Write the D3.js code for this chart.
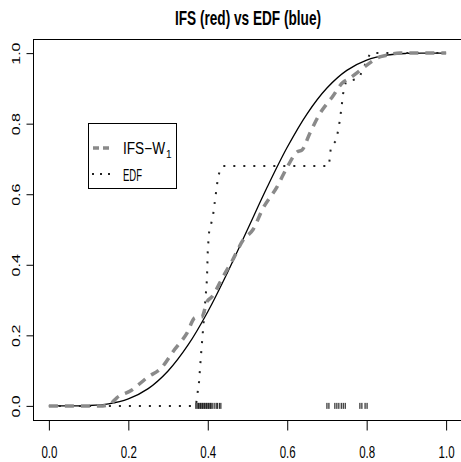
<!DOCTYPE html>
<html>
<head>
<meta charset="utf-8">
<script src="https://cdn.jsdelivr.net/npm/d3@7"></script>
<style>
  html, body { margin: 0; padding: 0; background: #fff; }
  svg { display: block; font-family: "Liberation Sans", Arial, sans-serif; }
</style>
</head>
<body>
<div id="chart"></div>
<script>
// true cdf (solid black)
const cdfX = [0, 0.05, 0.1, 0.15, 0.2, 0.25, 0.3, 0.35, 0.4, 0.45, 0.5, 0.55, 0.6, 0.65, 0.7, 0.75, 0.8, 0.85, 0.9, 0.95, 1];
const cdfY = [0, 0, 0.001, 0.006, 0.02, 0.049, 0.099, 0.172, 0.267, 0.379, 0.5, 0.621, 0.733, 0.828, 0.901, 0.951, 0.98, 0.994, 0.999, 1, 1];

// IFS estimator (grey dashed)
const ifsX = [0, 0.136, 0.154, 0.171, 0.209, 0.247, 0.285, 0.312, 0.348, 0.368, 0.385, 0.398, 0.411, 0.431, 0.438, 0.461, 0.489, 0.514, 0.539, 0.574, 0.6, 0.625, 0.637, 0.657, 0.683, 0.713, 0.741, 0.753, 0.778, 0.788, 0.814, 0.826, 0.851, 0.884, 1];
const ifsY = [0, 0, 0.005, 0.023, 0.045, 0.08, 0.11, 0.153, 0.207, 0.25, 0.252, 0.295, 0.31, 0.35, 0.365, 0.41, 0.47, 0.5, 0.56, 0.62, 0.677, 0.72, 0.725, 0.773, 0.83, 0.875, 0.918, 0.926, 0.946, 0.955, 0.977, 0.986, 0.994, 1, 1];

// empirical cdf (dotted)
const edfX = [0, 0.37, 0.378, 0.383, 0.388, 0.393, 0.398, 0.4, 0.403, 0.413, 0.421, 0.426, 0.433, 0.438, 0.705, 0.71, 0.723, 0.728, 0.733, 0.741, 0.748, 0.778, 0.783, 0.809, 1];
const edfY = [0, 0, 0.068, 0.145, 0.215, 0.286, 0.36, 0.44, 0.49, 0.538, 0.607, 0.65, 0.675, 0.68, 0.68, 0.734, 0.752, 0.78, 0.813, 0.887, 0.92, 0.927, 0.935, 1, 1];

// sample points (rug)
const sampleX = [0.37, 0.373, 0.376, 0.378, 0.381, 0.383, 0.386, 0.388, 0.391, 0.393, 0.396, 0.398, 0.401, 0.403, 0.406, 0.408, 0.411, 0.416, 0.421, 0.424, 0.429, 0.433,
                 0.7, 0.705, 0.72, 0.725, 0.73, 0.736, 0.741, 0.746,
                 0.783, 0.788, 0.796, 0.801];

const xTicks = [0, 0.2, 0.4, 0.6, 0.8, 1];
const yTicks = [0, 0.2, 0.4, 0.6, 0.8, 1];
const title = "IFS (red) vs EDF (blue)";
const legendLabels = ["IFS\u2212W", "EDF"];

const width = 461, height = 462;
const svg = d3.select("#chart").append("svg").attr("width", width).attr("height", height);

const x = d3.scaleLinear().domain([-0.04, 1.04]).range([33, 462]);
const y = d3.scaleLinear().domain([-0.04, 1.04]).range([420, 39]);

// plot box
svg.append("rect")
  .attr("x", 33.5).attr("y", 39.5)
  .attr("width", 462 - 33).attr("height", 420 - 39)
  .attr("fill", "none").attr("stroke", "#000");

// axes
const xAxis = svg.append("g").attr("transform", "translate(0,420.5)")
  .call(d3.axisBottom(x).tickValues(xTicks).tickSize(10).tickFormat(d3.format(".1f")));
xAxis.select(".domain").remove();
xAxis.selectAll("text")
  .attr("y", 37).attr("dy", null)
  .attr("font-size", 17).attr("fill", "#000")
  .attr("textLength", 16).attr("lengthAdjust", "spacingAndGlyphs");

const yAxis = svg.append("g").attr("transform", "translate(33.5,0)")
  .call(d3.axisLeft(y).tickValues(yTicks).tickSize(7).tickFormat(d3.format(".1f")));
yAxis.select(".domain").remove();
yAxis.selectAll("text")
  .attr("x", null).attr("dy", null)
  .attr("text-anchor", "middle")
  .attr("transform", "translate(-14,0) rotate(-90) scale(1,0.72)")
  .attr("font-size", 16).attr("fill", "#000");

// title
svg.append("text")
  .attr("x", 248).attr("y", 25)
  .attr("text-anchor", "middle")
  .attr("font-size", 21).attr("font-weight", "bold")
  .attr("textLength", 146).attr("lengthAdjust", "spacingAndGlyphs")
  .text(title);

// curves
const line = d3.line().x(d => x(d[0])).y(d => y(d[1]));

svg.append("path")
  .datum(d3.zip(cdfX, cdfY))
  .attr("d", line.curve(d3.curveCatmullRom))
  .attr("fill", "none").attr("stroke", "#000").attr("stroke-width", 1.3);

svg.append("path")
  .datum(d3.zip(edfX, edfY))
  .attr("d", line.curve(d3.curveLinear))
  .attr("fill", "none").attr("stroke", "#222").attr("stroke-width", 2)
  .attr("stroke-dasharray", "2,8");

svg.append("path")
  .datum(d3.zip(ifsX, ifsY))
  .attr("d", line.curve(d3.curveMonotoneX))
  .attr("fill", "none").attr("stroke", "#8a8a8a").attr("stroke-width", 3.5)
  .attr("stroke-dasharray", "9,7");

// rug
svg.append("g").selectAll("line")
  .data(sampleX)
  .join("line")
  .attr("x1", d => x(d)).attr("x2", d => x(d))
  .attr("y1", y(0) - 3).attr("y2", y(0) + 3)
  .attr("stroke", "#000").attr("stroke-width", 1);

// legend
const legend = svg.append("g");
legend.append("rect")
  .attr("x", 88.5).attr("y", 123.5).attr("width", 88).attr("height", 65)
  .attr("fill", "#fff").attr("stroke", "#000");
legend.append("line")
  .attr("x1", 93).attr("x2", 110).attr("y1", 148).attr("y2", 148)
  .attr("stroke", "#8a8a8a").attr("stroke-width", 3.5).attr("stroke-dasharray", "6,4");
legend.append("line")
  .attr("x1", 92).attr("x2", 110).attr("y1", 174).attr("y2", 174)
  .attr("stroke", "#222").attr("stroke-width", 2).attr("stroke-dasharray", "2,6");
const ifsLabel = legend.append("text")
  .attr("x", 123).attr("y", 154).attr("font-size", 16);
ifsLabel.append("tspan")
  .attr("textLength", 42).attr("lengthAdjust", "spacingAndGlyphs")
  .text(legendLabels[0]);
ifsLabel.append("tspan")
  .attr("dx", 1).attr("dy", 4).attr("font-size", 10)
  .text("1");
legend.append("text")
  .attr("x", 123).attr("y", 181).attr("font-size", 17)
  .attr("textLength", 19).attr("lengthAdjust", "spacingAndGlyphs")
  .text(legendLabels[1]);
</script>
</body>
</html>
